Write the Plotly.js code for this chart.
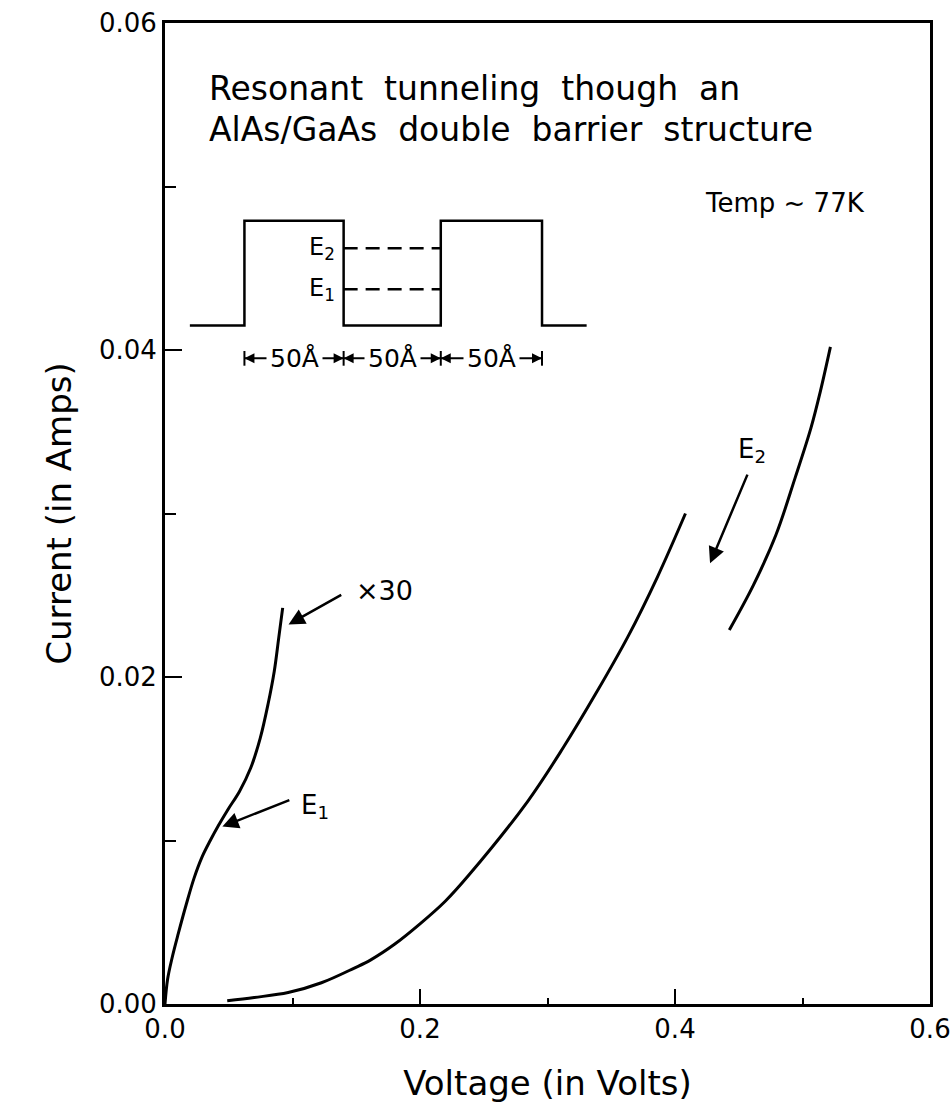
<!DOCTYPE html>
<html>
<head>
<meta charset="utf-8">
<script src="https://cdn.plot.ly/plotly-3.0.1.min.js"></script>
<style>html,body{margin:0;padding:0;background:#fff;}#chart{width:952px;height:1109px;}</style>
</head>
<body>
<div id="chart"></div>
<script>
// ---- Data ----
// Low-bias curve (shown x30), with E1 resonance knee
const lowV = [0, 0.0020, 0.0055, 0.0104, 0.0167, 0.0228, 0.0291, 0.0355, 0.0418, 0.0494, 0.0584, 0.0672, 0.0747, 0.0808, 0.0857, 0.0892, 0.0923];
const lowI = [0, 0.0015, 0.0028, 0.0043, 0.0061, 0.0077, 0.0090, 0.0100, 0.0109, 0.0119, 0.0130, 0.01443, 0.01626, 0.01833, 0.02035, 0.02239, 0.02423];
// Main I-V curve
const mainV = [0.0488, 0.0700, 0.0966, 0.1227, 0.1485, 0.1614, 0.1800, 0.2000, 0.2200, 0.2385, 0.2845, 0.3125, 0.3380, 0.3633, 0.3861, 0.4082];
const mainI = [0.0002, 0.0004, 0.0007, 0.0013, 0.0022, 0.0027, 0.00365, 0.0049, 0.0063, 0.0079, 0.0124, 0.0157, 0.0190, 0.0225, 0.0261, 0.0300];
// Branch after E2 resonance
const e2V = [0.4426, 0.4616, 0.4792, 0.4942, 0.5067, 0.5141, 0.5219];
const e2I = [0.02288, 0.02564, 0.0287, 0.03218, 0.03525, 0.0375, 0.04019];

// Tick labels
const xTickVals = [0, 0.2, 0.4, 0.6];
const xTickText = ["0.0", "0.2", "0.4", "0.6"];
const xMinorVals = [0.1, 0.3, 0.5];
const yTickVals = [0, 0.02, 0.04, 0.06];
const yTickText = ["0.00", "0.02", "0.04", "0.06"];
const yMinorVals = [0.01, 0.03, 0.05];

// Inset: double-barrier band diagram (drawn in the axes' coordinates)
const barrierEdges = [0.0623, 0.1401, 0.2163, 0.2957];
const barrierOuter = [0.0195, 0.3307];
const barrierLow = 0.0415, barrierHigh = 0.0479;
const levelNames = ["E<sub>2</sub>", "E<sub>1</sub>"];
const levelI = [0.04622, 0.04371];
const dimI = 0.03949;
const dimLabels = ["50Å", "50Å", "50Å"];

// ---- Build traces ----
const black = "#000";
const e = barrierEdges;
const barrierX = [barrierOuter[0], e[0], e[0], e[1], e[1], e[2], e[2], e[3], e[3], barrierOuter[1]];
const barrierY = [barrierLow, barrierLow, barrierHigh, barrierHigh, barrierLow, barrierLow, barrierHigh, barrierHigh, barrierLow, barrierLow];

const curveLine = {color: black, width: 3, shape: "spline", smoothing: 1};
const traces = [
  {x: lowV, y: lowI, mode: "lines", line: curveLine, hoverinfo: "skip"},
  {x: mainV, y: mainI, mode: "lines", line: curveLine, hoverinfo: "skip"},
  {x: e2V, y: e2I, mode: "lines", line: curveLine, hoverinfo: "skip"},
  {x: barrierX, y: barrierY, mode: "lines", line: {color: black, width: 2.5}, hoverinfo: "skip"}
];
levelI.forEach(function (lv) {
  traces.push({x: [e[1], e[2]], y: [lv, lv], mode: "lines", line: {color: black, width: 2.5, dash: "14px,8px"}, hoverinfo: "skip"});
});
// dimension line with bars
const dimX = [e[0], e[3]];
traces.push({x: dimX, y: [dimI, dimI], mode: "lines", line: {color: black, width: 2}, hoverinfo: "skip"});
const barX = [], barY = [];
e.forEach(function (ex) { barX.push(ex, ex, null); barY.push(dimI - 0.00045, dimI + 0.00045, null); });
traces.push({x: barX, y: barY, mode: "lines", line: {color: black, width: 2}, hoverinfo: "skip"});

const font = "DejaVu Sans";
const nb = "\u00a0\u00a0";
const annotations = [
  {x: 0.0327, y: 0.05602, xref: "x", yref: "y", xanchor: "left", yanchor: "middle", showarrow: false,
   text: "Resonant" + nb + "tunneling" + nb + "though" + nb + "an", font: {family: font, size: 33, color: black}},
  {x: 0.0327, y: 0.05346, xref: "x", yref: "y", xanchor: "left", yanchor: "middle", showarrow: false,
   text: "AlAs/GaAs" + nb + "double" + nb + "barrier" + nb + "structure", font: {family: font, size: 33, color: black}},
  {x: 0.4218, y: 0.0490, xref: "x", yref: "y", xanchor: "left", yanchor: "middle", showarrow: false,
   text: "Temp ~ 77K", font: {family: font, size: 26, color: black}},
  {x: 0.1479, y: 0.02532, xref: "x", yref: "y", xanchor: "left", yanchor: "middle", showarrow: false,
   text: "×30", font: {family: font, size: 27, color: black}},
  {x: 0.1051, y: 0.01211, xref: "x", yref: "y", xanchor: "left", yanchor: "middle", showarrow: false,
   text: "E<sub>1</sub>", font: {family: font, size: 26, color: black}},
  {x: 0.4475, y: 0.03388, xref: "x", yref: "y", xanchor: "left", yanchor: "middle", showarrow: false,
   text: "E<sub>2</sub>", font: {family: font, size: 26, color: black}},
  // arrows
  {x: 0.0969, y: 0.02321, ax: 0.1394, ay: 0.02507, xref: "x", yref: "y", axref: "x", ayref: "y", text: "", showarrow: true,
   arrowhead: 2, arrowsize: 1.3, arrowwidth: 2.5, arrowcolor: black},
  {x: 0.0450, y: 0.01085, ax: 0.0987, ay: 0.01251, xref: "x", yref: "y", axref: "x", ayref: "y", text: "", showarrow: true,
   arrowhead: 2, arrowsize: 1.3, arrowwidth: 2.5, arrowcolor: black},
  {x: 0.4275, y: 0.02695, ax: 0.4573, ay: 0.03247, xref: "x", yref: "y", axref: "x", ayref: "y", text: "", showarrow: true,
   arrowhead: 2, arrowsize: 1.3, arrowwidth: 2.5, arrowcolor: black}
];
// level labels in the inset
levelNames.forEach(function (nm, i) {
  annotations.push({x: e[1] - 0.005, y: levelI[i], xref: "x", yref: "y", xanchor: "right", yanchor: "middle", showarrow: false,
    text: nm, font: {family: font, size: 24, color: black}});
});
// dimension labels and arrowheads
dimLabels.forEach(function (lb, i) {
  annotations.push({x: (e[i] + e[i + 1]) / 2, y: dimI, xref: "x", yref: "y", xanchor: "center", yanchor: "middle", showarrow: false,
    text: lb, bgcolor: "#fff", borderpad: 3, font: {family: font, size: 25, color: black}});
});
e.forEach(function (ex, i) {
  if (i > 0) annotations.push({x: ex, y: dimI, xref: "x", yref: "y", ax: -10, ay: 0, text: "", showarrow: true, arrowhead: 2, arrowsize: 1, arrowwidth: 2, arrowcolor: black});
  if (i < e.length - 1) annotations.push({x: ex, y: dimI, xref: "x", yref: "y", ax: 10, ay: 0, text: "", showarrow: true, arrowhead: 2, arrowsize: 1, arrowwidth: 2, arrowcolor: black});
});

const layout = {
  width: 952, height: 1109,
  margin: {l: 165, r: 22, t: 23, b: 105},
  paper_bgcolor: "#fff", plot_bgcolor: "#fff",
  showlegend: false,
  font: {family: font, color: black},
  xaxis: {
    range: [0, 0.6], showgrid: false, zeroline: false,
    showline: true, linewidth: 3, linecolor: black, mirror: true,
    tickmode: "array", tickvals: xTickVals, ticktext: xTickText,
    ticks: "inside", ticklen: 15, tickwidth: 2, tickcolor: black,
    ticklabeloverflow: "allow",
    minor: {tickvals: xMinorVals, ticks: "inside", ticklen: 6, tickwidth: 2, tickcolor: black, showgrid: false},
    tickfont: {family: font, size: 26, color: black},
    title: {text: "Voltage (in Volts)", font: {family: font, size: 34, color: black}, standoff: 28}
  },
  yaxis: {
    range: [0, 0.06], showgrid: false, zeroline: false,
    showline: true, linewidth: 3, linecolor: black, mirror: true,
    tickmode: "array", tickvals: yTickVals, ticktext: yTickText,
    ticks: "inside", ticklen: 17, tickwidth: 2, tickcolor: black,
    ticklabeloverflow: "allow",
    minor: {tickvals: yMinorVals, ticks: "inside", ticklen: 11, tickwidth: 2, tickcolor: black, showgrid: false},
    tickfont: {family: font, size: 26, color: black},
    title: {text: "Current (in Amps)", font: {family: font, size: 34, color: black}, standoff: 18}
  },
  annotations: annotations
};

Plotly.newPlot("chart", traces, layout, {displayModeBar: false, staticPlot: true});
</script>
</body>
</html>
